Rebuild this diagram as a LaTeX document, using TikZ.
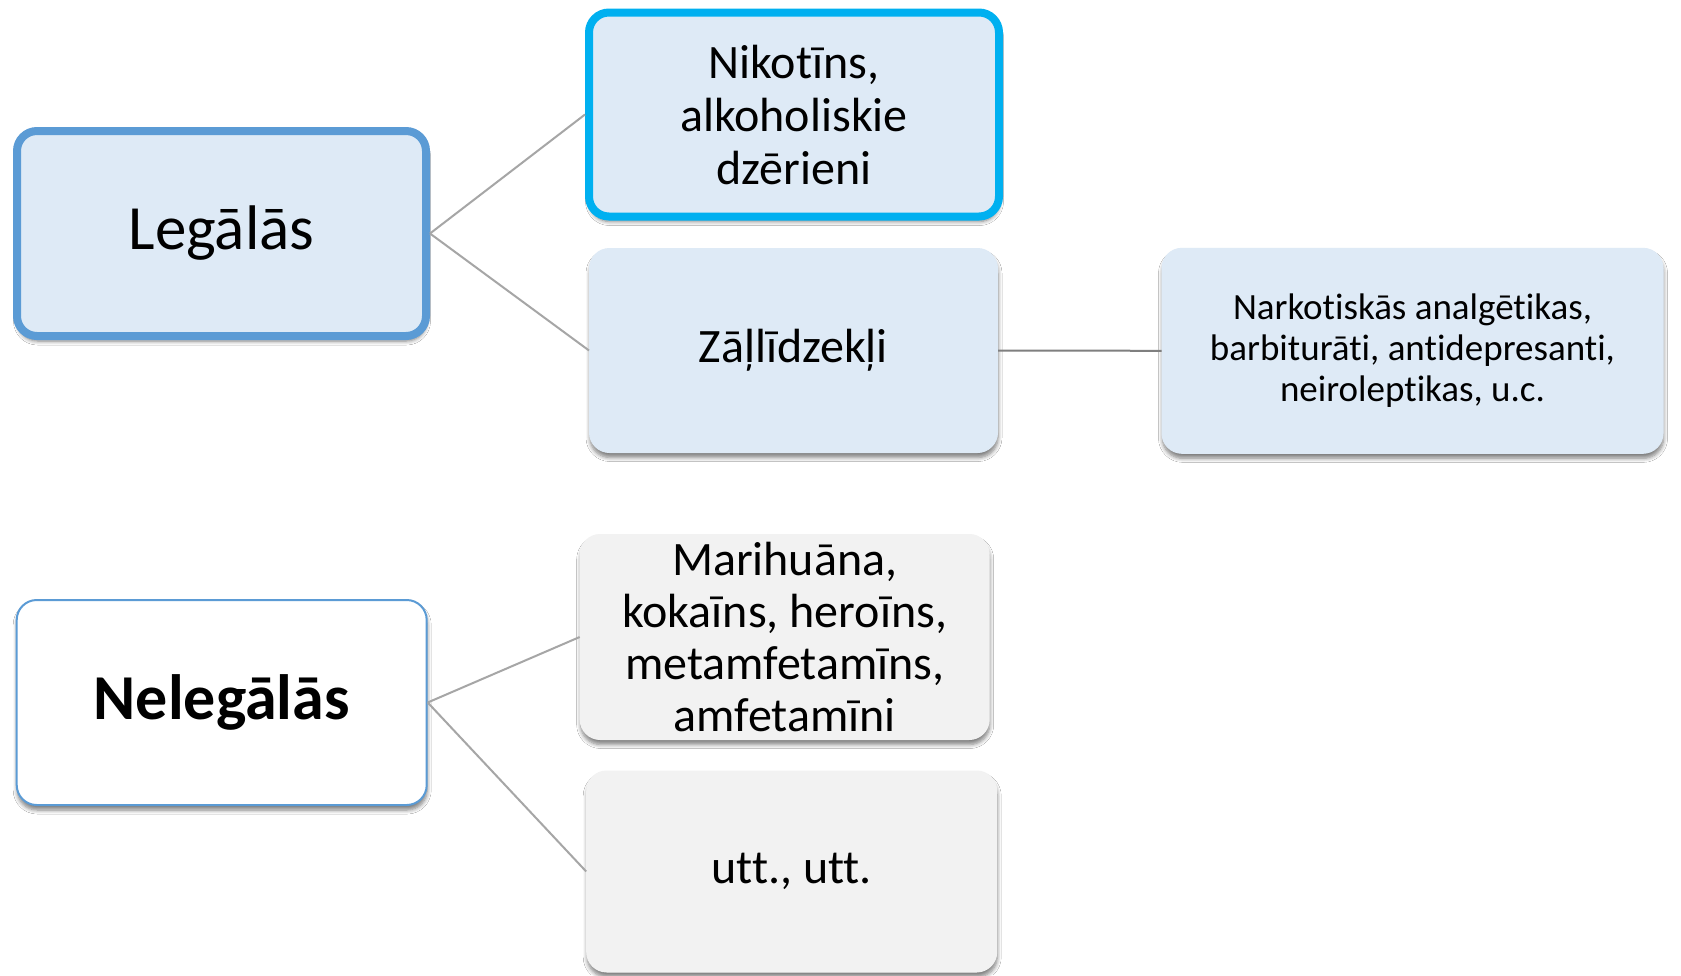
\documentclass[tikz,border=0pt]{standalone}
\usepackage{fontspec}
\setmainfont{Carlito}[Ligatures={NoCommon}]
\usetikzlibrary{shadows.blur}
\definecolor{lightblue}{HTML}{DEEAF6}
\definecolor{midblue}{HTML}{5B9BD5}
\definecolor{cyanblue}{HTML}{00B0F0}
\definecolor{lightgray}{HTML}{F2F2F2}
\definecolor{connA}{HTML}{A6A6A6}
\definecolor{connB}{HTML}{7F7F7F}
\tikzset{
  boxbase/.style={rounded corners=20pt, inner sep=0pt, align=center,
    blur shadow={shadow xshift=0.5pt, shadow yshift=-5pt, shadow blur steps=6, shadow opacity=50, shadow blur radius=4pt}},
  bluebox/.style={boxbase, fill=lightblue, draw=lightblue, line width=1pt},
  graybox/.style={boxbase, fill=lightgray, draw=lightgray, line width=1pt},
  mainbox/.style={boxbase, fill=lightblue, draw=midblue, line width=8pt},
  hlbox/.style={boxbase, fill=lightblue, draw=cyanblue, line width=8pt},
  whitebox/.style={boxbase, fill=white, draw=midblue, line width=2pt},
  conn/.style={draw=connA, line width=2pt},
  conndark/.style={draw=connB, line width=2pt},
  medtxt/.style={font=\fontsize{48}{53}\selectfont},
}
\begin{document}
\begin{tikzpicture}[x=1pt,y=-1pt]
\useasboundingbox (0,0) rectangle (1681,975);
\fill[white] (0,0) rectangle (1681,975);

\node[mainbox, minimum width=409pt, minimum height=205pt, font=\fontsize{63}{70}\selectfont] (leg) at (221.5,233.5) {\raisebox{-3pt}{Legālās}};
\node[hlbox, minimum width=410pt, minimum height=204pt, medtxt] (nik) at (794,114.5) {Nikotīns,\\alkoholiskie\\dzērieni};
\node[bluebox, minimum width=408pt, minimum height=204pt, medtxt] (zal) at (793.5,350.5) {Zāļlīdzekļi};
\node[bluebox, minimum width=501pt, minimum height=205pt, font=\fontsize{37}{41}\selectfont] (nar) at (1412.5,350.8) {Narkotiskās analgētikas,\\barbiturāti, antidepresanti,\\neiroleptikas, u.c.};
\node[whitebox, minimum width=410pt, minimum height=205pt, font=\fontsize{64}{70}\selectfont\bfseries] (nel) at (221.7,702.5) {\raisebox{-3pt}{Nelegālās}};
\node[graybox, minimum width=409pt, minimum height=205pt, font=\fontsize{48}{52}\selectfont] (mar) at (784.7,637) {Marihuāna,\\kokaīns, heroīns,\\metamfetamīns,\\amfetamīni};
\node[graybox, minimum width=410pt, minimum height=201pt, medtxt] (utt) at (791.7,871.5) {utt., utt.};

\draw[conn] (leg.east) -- (nik.west);
\draw[conn] (leg.east) -- (zal.west);
\draw[conndark] (zal.east) -- (nar.west);
\draw[conn] (nel.east) -- (mar.west);
\draw[conn] (nel.east) -- (utt.west);
\end{tikzpicture}
\end{document}
